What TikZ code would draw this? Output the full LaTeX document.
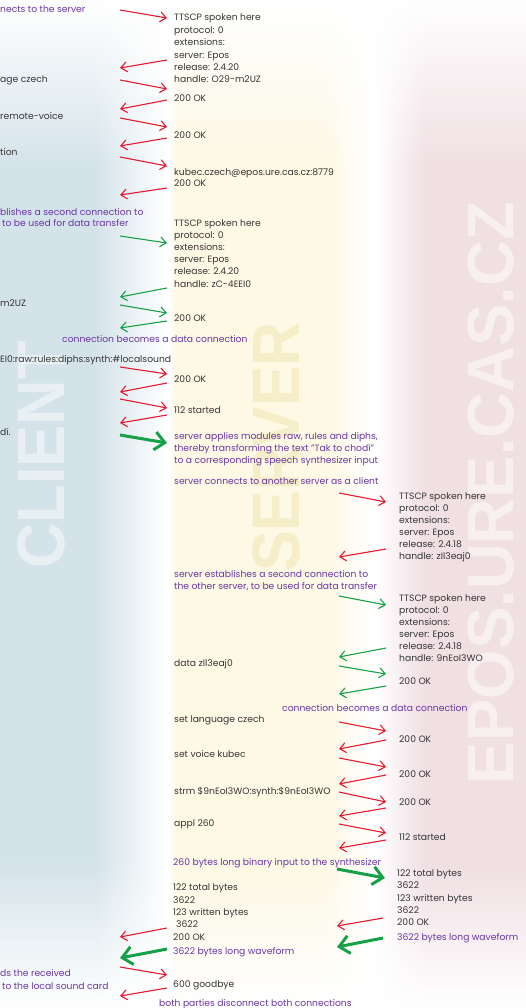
\documentclass[tikz,border=0pt]{standalone}
\usepackage{fontspec}
\setmainfont{Poppins}
\newfontfamily\wmfont{Liberation Sans}
\usetikzlibrary{arrows.meta,fadings}

\definecolor{txtgray}{HTML}{363636}
\definecolor{purp}{HTML}{6A36A6}
\definecolor{ared}{HTML}{E6192F}
\definecolor{agreen}{HTML}{16A047}
\definecolor{bgblue}{HTML}{D4E3EA}
\definecolor{bgyellow}{HTML}{FDF9E4}
\definecolor{bgpink}{HTML}{F0DFE3}
\definecolor{wmclient}{HTML}{E9F0F4}
\definecolor{wmserver}{HTML}{F5EEC8}
\definecolor{wmepos}{HTML}{F8EFF1}

\tikzfading[name=fadetop, top color=transparent!0, bottom color=transparent!100]
\tikzfading[name=fadebot, top color=transparent!100, bottom color=transparent!0]

\newcommand\mainsz{\fontsize{9.2}{12}\selectfont}
\newcommand\msg[6]{\coordinate (#2s) at (#3,#4); \coordinate (#2e) at (#5,#6); \draw[#1] (#2s) -- (#2e);}

\tikzset{
  txt/.style={font=\mainsz, text=txtgray, anchor=base west, inner sep=0pt},
  ptxt/.style={txt, text=purp},
  ra/.style={draw=ared, line width=1.1pt, -{Straight Barb[length=6pt,width=10pt]}},
  ga/.style={draw=agreen, line width=1.1pt, -{Straight Barb[length=6pt,width=10pt]}},
  gA/.style={draw=agreen, line width=3pt, -{Straight Barb[length=10pt,width=18pt]}},
  wm/.style={font=\wmfont\bfseries\fontsize{67}{67}\selectfont, inner sep=0pt, anchor=center, rotate=90}
}

\begin{document}
\begin{tikzpicture}[x=1pt,y=-1pt]
\useasboundingbox (0,0) rectangle (526,1008);
\clip (0,0) rectangle (526,1008);
% background bands
\fill[white] (0,0) rectangle (526,1008);
\fill[bgblue] (0,0) rectangle (95,1008);
\shade[left color=bgblue, right color=white] (95,0) rectangle (168,1008);
\shade[left color=white, right color=bgyellow] (168,0) rectangle (176,1008);
\fill[bgyellow] (176,0) rectangle (325,1008);
\shade[left color=bgyellow, right color=white] (325,0) rectangle (375,1008);
\shade[left color=white, right color=bgpink] (375,0) rectangle (425,1008);
\fill[bgpink] (425,0) rectangle (526,1008);
\fill[white, path fading=fadetop] (0,0) rectangle (526,170);
\fill[white, path fading=fadebot] (0,860) rectangle (526,1008);
% watermarks
\node[wm, text=wmclient, xscale=0.94] (wmc) at (41,455) {CLIENT};
\node[wm, text=wmserver, xscale=0.91] (wms) at (276,447) {SERVER};
\node[wm, text=wmepos, font=\wmfont\bfseries\fontsize{65.6}{66}\selectfont, xscale=0.968] (wme) at (491,493) {EPOS.URE.CAS.CZ};

% client column
\node[ptxt] (c1) at (0,13) {nects to the server};
\node[txt] (c2) at (0,83) {age czech};
\node[txt] (c3) at (0,120) {remote-voice};
\node[txt] (c4) at (0,156) {tion};
\node[ptxt] (c5) at (0,215) {blishes a second connection to};
\node[ptxt] (c6) at (2,226) {to be used for data transfer};
\node[txt] (c7) at (0,306) {m2UZ};
\node[ptxt] (c8) at (62,342) {connection becomes a data connection};
\node[txt] (c9) at (0,362) {EI0:raw:rules:diphs:synth:\#localsound};
\node[txt] (c10) at (0,435) {dí.};
\node[ptxt] (c11) at (0,976) {ds the received};
\node[ptxt] (c12) at (2,989) {to the local sound card};

% server column
\node[txt] (s1a) at (174,21) {TTSCP spoken here};
\node[txt] (s1b) at (174,33.4) {protocol: 0};
\node[txt] (s1c) at (174,45.8) {extensions:};
\node[txt] (s1d) at (174,58.2) {server: Epos};
\node[txt] (s1e) at (174,70.6) {release: 2.4.20};
\node[txt] (s1f) at (174,83) {handle: O29-m2UZ};
\node[txt] (s2) at (174,102) {200 OK};
\node[txt] (s3) at (174,139) {200 OK};
\node[txt] (s4) at (174,176) {kubec.czech@epos.ure.cas.cz:8779};
\node[txt] (s5) at (174,187) {200 OK};
\node[txt] (s6a) at (174,226) {TTSCP spoken here};
\node[txt] (s6b) at (174,238.2) {protocol: 0};
\node[txt] (s6c) at (174,250.4) {extensions:};
\node[txt] (s6d) at (174,262.6) {server: Epos};
\node[txt] (s6e) at (174,274.8) {release: 2.4.20};
\node[txt] (s6f) at (174,287) {handle: zC-4EEI0};
\node[txt] (s7) at (174,321) {200 OK};
\node[txt] (s8) at (174,382) {200 OK};
\node[txt] (s9) at (174,413) {112 started};
\node[ptxt] (s10a) at (174,439) {server applies modules raw, rules and diphs,};
\node[ptxt] (s10b) at (174,451) {thereby transforming the text "Tak to chodí"};
\node[ptxt] (s10c) at (174,463) {to a corresponding speech synthesizer input};
\node[ptxt] (s11) at (174,484) {server connects to another server as a client};
\node[ptxt] (s12a) at (174,577) {server establishes a second connection to};
\node[ptxt] (s12b) at (174,589) {the other server, to be used for data transfer};
\node[txt] (s13) at (174,666) {data zIl3eaj0};
\node[ptxt] (s14) at (282,711) {connection becomes a data connection};
\node[txt] (s15) at (174,722) {set language czech};
\node[txt] (s16) at (174,757) {set voice kubec};
\node[txt] (s17) at (174,794) {strm \$9nEoI3WO:synth:\$9nEoI3WO};
\node[txt] (s18) at (174,826) {appl 260};
\node[ptxt] (s19) at (173,865) {260 bytes long binary input to the synthesizer};
\node[txt] (s20a) at (173,890) {122 total bytes};
\node[txt] (s20b) at (173,903) {3622};
\node[txt] (s20c) at (173,915) {123 written bytes};
\node[txt] (s20d) at (176,927) {3622};
\node[txt] (s20e) at (173,940) {200 OK};
\node[ptxt] (s21) at (173,954) {3622 bytes long waveform};
\node[txt] (s22) at (173,987) {600 goodbye};
\node[ptxt] (s23) at (159,1006) {both parties disconnect both connections};

% remote server column
\node[txt] (e1a) at (399,499) {TTSCP spoken here};
\node[txt] (e1b) at (399,511) {protocol: 0};
\node[txt] (e1c) at (399,523) {extensions:};
\node[txt] (e1d) at (399,535) {server: Epos};
\node[txt] (e1e) at (399,547) {release: 2.4.18};
\node[txt] (e1f) at (399,559) {handle: zIl3eaj0};
\node[txt] (e2a) at (399,601) {TTSCP spoken here};
\node[txt] (e2b) at (399,613) {protocol: 0};
\node[txt] (e2c) at (399,625) {extensions:};
\node[txt] (e2d) at (399,637) {server: Epos};
\node[txt] (e2e) at (399,649) {release: 2.4.18};
\node[txt] (e2f) at (399,661) {handle: 9nEoI3WO};
\node[txt] (e3) at (399,684) {200 OK};
\node[txt] (e4) at (399,742) {200 OK};
\node[txt] (e5) at (399,777) {200 OK};
\node[txt] (e6) at (399,805) {200 OK};
\node[txt] (e7) at (399,840) {112 started};
\node[txt] (e8a) at (397,876) {122 total bytes};
\node[txt] (e8b) at (397,888) {3622};
\node[txt] (e8c) at (397,901) {123 written bytes};
\node[txt] (e8d) at (397,913) {3622};
\node[txt] (e8e) at (397,925) {200 OK};
\node[ptxt] (e9) at (397,940) {3622 bytes long waveform};

% messages client <-> server
\msg{ra}{a1}{120}{10}{167}{18}
\msg{ra}{a2}{167}{60}{120}{68}
\msg{ra}{a3}{120}{80}{167}{89}
\msg{ra}{a4}{167}{100}{120}{109}
\msg{ra}{a5}{120}{118}{167}{127}
\msg{ra}{a6}{167}{138}{120}{146}
\msg{ra}{a7}{120}{157}{167}{166}
\msg{ra}{a8}{167}{188}{120}{195}
\msg{ga}{a9}{120}{236}{167}{243}
\msg{ga}{a10}{167}{288}{120}{297}
\msg{ga}{a11}{120}{305}{167}{313}
\msg{ga}{a12}{167}{321}{120}{328}
\msg{ra}{a13}{120}{367}{167}{374}
\msg{ra}{a14}{167}{383}{120}{392}
\msg{ra}{a15}{120}{399}{167}{408}
\msg{ra}{a16}{167}{415}{120}{423}
\msg{gA}{a17}{120}{435}{167}{443}
% messages server <-> remote server
\msg{ra}{b1}{339}{493}{386}{502}
\msg{ra}{b2}{386}{549}{339}{557}
\msg{ga}{b3}{339}{596}{386}{605}
\msg{ga}{b4}{386}{648}{339}{657}
\msg{ga}{b5}{339}{666}{386}{674}
\msg{ga}{b6}{386}{686}{339}{694}
\msg{ra}{b7}{339}{722}{386}{731}
\msg{ra}{b8}{386}{740}{339}{749}
\msg{ra}{b9}{339}{758}{386}{767}
\msg{ra}{b10}{386}{775}{339}{784}
\msg{ra}{b11}{339}{792}{386}{802}
\msg{ra}{b12}{386}{808}{339}{816}
\msg{ra}{b13}{339}{824}{386}{833}
\msg{ra}{b14}{386}{840}{339}{848}
\msg{gA}{b15}{337}{869}{385}{878}
\msg{ra}{b16}{383}{918}{337}{926}
\msg{gA}{b17}{383}{938}{337}{947}
% final client <-> server
\msg{ra}{a18}{167}{928}{120}{937}
\msg{gA}{a19}{167}{949}{120}{958}
\msg{ra}{a20}{120}{967}{167}{975}
\msg{ra}{a21}{167}{988}{120}{996}
\end{tikzpicture}
\end{document}
